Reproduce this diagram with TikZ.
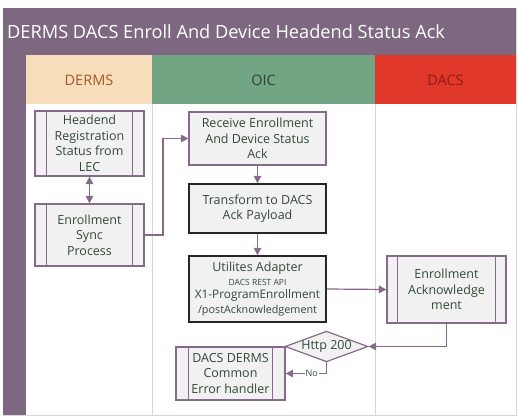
\documentclass[tikz,border=0pt]{standalone}
\usepackage{fontspec}
\setmainfont{Open Sans}
\usetikzlibrary{positioning, arrows.meta, shapes.geometric}
\usepackage{xcolor}
\definecolor{laneVioletDark}{HTML}{7E6781}
\definecolor{lineViolet}{HTML}{86698B}
\definecolor{boxGray}{HTML}{F1F1F1}
\definecolor{textSlate}{HTML}{34483A}
\definecolor{dermsPeach}{HTML}{F7DDBA}
\definecolor{dermsText}{HTML}{A65A34}
\definecolor{oicGreen}{HTML}{72A584}
\definecolor{oicText}{HTML}{2F4436}
\definecolor{dacsRed}{HTML}{E0382A}
\definecolor{dacsText}{HTML}{8E1C12}
\definecolor{gridGray}{HTML}{D6D6D6}

\tikzset{
    flowbox/.style={draw=lineViolet, line width=1.2pt, fill=boxGray, text=textSlate,
        align=center, font=\fontsize{12.5}{15.5}\selectfont, inner sep=1pt},
    taskbox/.style={flowbox, draw=black!85, line width=1.5pt},
    decision/.style={flowbox, diamond, aspect=2.7, inner sep=0pt},
    flowarrow/.style={draw=lineViolet, line width=1.2pt, -{Triangle[length=7.5pt, width=7.5pt]}},
}

% side bars of a predefined process box
\newcommand{\procbars}[2]{
    \draw[lineViolet, line width=1.2pt] ([xshift=#2]#1.north west) -- ([xshift=#2]#1.south west);
    \draw[lineViolet, line width=1.2pt] ([xshift=-#2]#1.north east) -- ([xshift=-#2]#1.south east);
}

\begin{document}
\begin{tikzpicture}[x=1pt, y=-1pt]
    \useasboundingbox (0,0) rectangle (519,420);

    % pool and lanes
    \draw[gridGray, line width=0.8pt] (3,8) rectangle (516,415);
    \fill[laneVioletDark] (3,8) rectangle (516,55);
    \fill[laneVioletDark] (3,55) rectangle (26,415);
    \fill[dermsPeach] (26,55) rectangle (152,104);
    \fill[oicGreen] (152,55) rectangle (375,104);
    \fill[dacsRed] (375,55) rectangle (516,104);
    \draw[gridGray, line width=0.8pt] (152,104) -- (152,415);
    \draw[gridGray, line width=0.8pt] (375,104) -- (375,415);

    \node[anchor=west, text=white, font=\fontsize{18.2}{21}\selectfont, inner sep=0pt] (title) at (7,32)
        {DERMS DACS Enroll And Device Headend Status Ack};
    \node[text=dermsText, font=\fontsize{14.5}{17}\selectfont] (dermsLane) at (89,80) {DERMS};
    \node[text=oicText, font=\fontsize{14.5}{17}\selectfont] (oicLane) at (263.5,80) {OIC};
    \node[text=dacsText, font=\fontsize{14.5}{17}\selectfont] (dacsLane) at (445.5,80) {DACS};

    % DERMS lane
    \node[flowbox, minimum width=109pt, minimum height=65pt] (headend) at (89.5,143.5)
        {Headend\\Registration\\Status from\\LEC};
    \procbars{headend}{12pt}
    \node[flowbox, minimum width=109pt, minimum height=62pt] (sync) at (89.5,235)
        {Enrollment\\Sync\\Process};
    \procbars{sync}{12pt}

    % OIC lane
    \node[flowbox, minimum width=137pt, minimum height=53pt] (receive) at (257.5,138.5)
        {Receive Enrollment\\And Device Status\\Ack};
    \node[taskbox, minimum width=137pt, minimum height=49pt] (transform) at (257.5,208.5)
        {Transform to DACS\\Ack Payload};
    \node[taskbox, minimum width=137pt, minimum height=66pt] (adapter) at (257.5,289)
        {Utilites Adapter\\[-2pt]{\fontsize{8.5}{10}\selectfont DACS REST API}\\[-2pt]{\fontsize{11.8}{14}\selectfont X1-ProgramEnrollment}\\[-1pt]{\fontsize{10.8}{13}\selectfont /postAcknowledgement}};
    \node[decision, minimum width=73pt, minimum height=27pt] (http) at (326.5,346.5) {Http 200};
    \node[flowbox, minimum width=109pt, minimum height=53pt] (errors) at (230.5,373.5)
        {DACS DERMS\\Common\\Error handler};
    \procbars{errors}{13pt}

    % DACS lane
    \node[flowbox, minimum width=119pt, minimum height=67pt] (enrack) at (446.5,289.5)
        {Enrollment\\Acknowledge\\ment};
    \procbars{enrack}{11pt}

    % connectors
    \draw[flowarrow, {Triangle[length=7.5pt, width=7.5pt]}-{Triangle[length=7.5pt, width=7.5pt]}] (headend) -- (sync);
    \draw[flowarrow] (sync.east) -| (163,138.5) -- (receive.west);
    \draw[flowarrow] (receive) -- (transform);
    \draw[flowarrow] (transform) -- (adapter);
    \draw[flowarrow] (adapter.east) -- (enrack.west);
    \draw[flowarrow] (enrack.south) |- (http.east);
    \draw[flowarrow] (http.south) |- node[pos=0.68, fill=white, text=textSlate, inner sep=1pt,
        font=\fontsize{9}{11}\selectfont] {No} (errors.east);
\end{tikzpicture}
\end{document}
